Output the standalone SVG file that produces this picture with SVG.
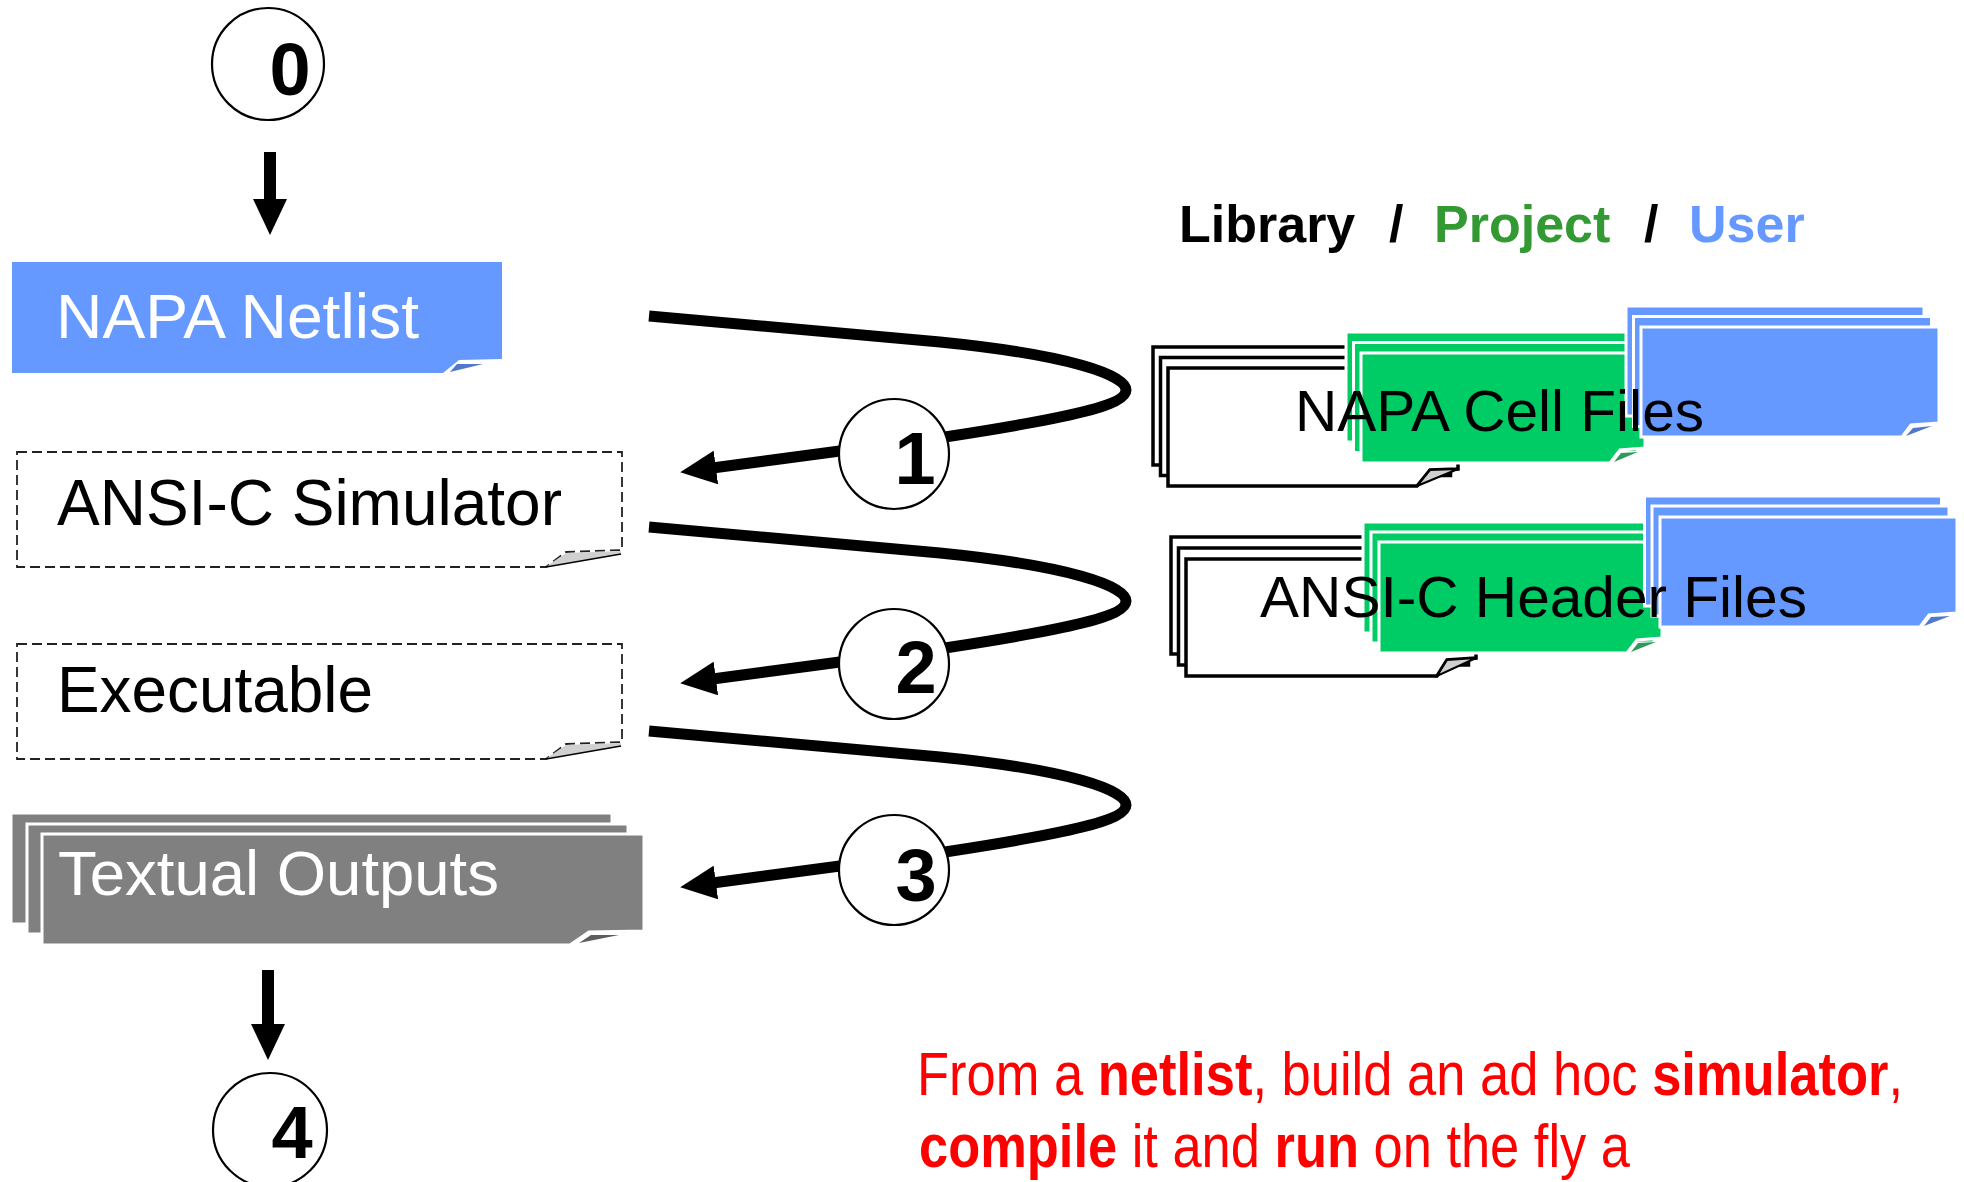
<svg xmlns="http://www.w3.org/2000/svg" width="1964" height="1182" viewBox="0 0 1964 1182">
<defs>
<style>
text{font-family:"Liberation Sans",Arial,sans-serif}
.num{font-size:74px;font-weight:bold;fill:#000;text-anchor:middle}
.ring{fill:#fff;stroke:#000;stroke-width:2.2}
.conn{fill:none;stroke:#000;stroke-width:11}
.dash{fill:none;stroke:#222;stroke-width:1.8;stroke-dasharray:10 5}
.gray{fill:#808080;stroke:#fff;stroke-width:3}
.blue{fill:#6699FF;stroke:#fff;stroke-width:3}
.green{fill:#00CC66;stroke:#fff;stroke-width:3}
.paper{fill:#fff;stroke:#000;stroke-width:3.5}
.curl{fill:#d0d0d0;stroke:#000;stroke-width:2}
.hdr{font-size:52px;font-weight:bold}
.cap{font-size:62px;fill:#FF0000}
</style>
<marker id="ah" viewBox="0 0 36 34" refX="11" refY="17" markerWidth="36" markerHeight="34" markerUnits="userSpaceOnUse" orient="auto">
<path d="M0,0 L36,17 L0,34 Z" fill="#000"/>
</marker>
</defs>
<rect width="1964" height="1182" fill="#fff"/>

<g id="connectors">
<path class="conn" d="M270,152 V210" style="stroke-width:12" marker-end="url(#ah)"/>
<path class="conn" d="M268,970 V1035" style="stroke-width:12" marker-end="url(#ah)"/>
<path id="loop1" class="conn" d="M649,316 L940,342 C1070,355 1126,375 1126,390 C1126,405 1070,418 945,437 L705,469" marker-end="url(#ah)"/>
<path id="loop2" class="conn" transform="translate(0,211)" d="M649,316 L940,342 C1070,355 1126,375 1126,390 C1126,405 1070,418 945,437 L705,469" marker-end="url(#ah)"/>
<path id="loop3" class="conn" transform="translate(0,415)" d="M649,316 L940,342 C1070,355 1126,375 1126,390 C1126,405 1070,418 945,437 L705,469" marker-end="url(#ah)"/>
</g>

<g id="step0">
<circle class="ring" cx="268" cy="64" r="56"/>
<text class="num" x="290" y="95">0</text>
</g>

<g id="napa-netlist">
<path d="M12,262 H502 V359 L459,360 L443,373 H12 Z" fill="#6699FF"/>
<polygon points="450,372 457,364 483,364" fill="#5078cc"/>
<text x="56" y="338" fill="#fff" font-size="63" textLength="363" lengthAdjust="spacingAndGlyphs">NAPA Netlist</text>
</g>

<g id="ansi-c-simulator">
<path class="dash" d="M17,452 H622 V550 L566,552 L546,567 H17 Z"/>
<polygon points="547,566 566,553 621,551 621,554" fill="#d0d0d0"/>
<line x1="546" y1="567" x2="621" y2="554" stroke="#000" stroke-width="1.6"/>
<text x="57" y="525" font-size="64">ANSI-C Simulator</text>
</g>

<g id="executable">
<path class="dash" d="M17,644 H622 V742 L566,744 L546,759 H17 Z"/>
<polygon points="547,758 566,745 621,743 621,746" fill="#d0d0d0"/>
<line x1="546" y1="759" x2="621" y2="746" stroke="#000" stroke-width="1.6"/>
<text x="57" y="712" font-size="64" textLength="316" lengthAdjust="spacingAndGlyphs">Executable</text>
</g>

<g id="textual-outputs">
<rect class="gray" x="11" y="813" width="601" height="111"/>
<rect class="gray" x="27" y="824" width="601" height="110"/>
<path class="gray" d="M42,834 H644 V931 L589,932 L570,945 H42 Z"/>
<polygon points="579,943 591,935 619,935" fill="#5e5e5e"/>
<text x="58" y="895" fill="#fff" font-size="63" textLength="441" lengthAdjust="spacingAndGlyphs">Textual Outputs</text>
</g>

<g id="step4">
<circle class="ring" cx="270" cy="1130" r="57"/>
<text class="num" x="292" y="1158">4</text>
</g>

<g id="step1">
<circle class="ring" cx="894" cy="454" r="55"/>
<text class="num" x="915" y="484">1</text>
</g>
<g id="step2">
<circle class="ring" cx="894" cy="664" r="55"/>
<text class="num" x="916" y="693">2</text>
</g>
<g id="step3">
<circle class="ring" cx="894" cy="870" r="55"/>
<text class="num" x="916" y="901">3</text>
</g>

<g id="legend">
<text class="hdr" y="242"><tspan x="1179" fill="#000">Library</tspan><tspan x="1389" fill="#000">/</tspan><tspan x="1434" fill="#339933">Project</tspan><tspan x="1644" fill="#000">/</tspan><tspan x="1689" fill="#6699FF">User</tspan></text>
</g>

<g id="napa-cell-files">
<rect class="paper" x="1153" y="347" width="290" height="118"/>
<rect class="paper" x="1160.5" y="357.5" width="290" height="118"/>
<path class="paper" d="M1168,368 H1458 V469 L1430,470 L1417,486 H1168 Z"/>
<polygon class="curl" points="1417,486 1430,470 1458,469"/>
<rect class="green" x="1346" y="332" width="284" height="110"/>
<rect class="green" x="1353.5" y="342.5" width="284" height="110"/>
<path class="green" d="M1361,353 H1645 V448 L1620,450 L1610,463 H1361 Z"/>
<polygon points="1614,462 1621,453 1638,452" fill="#2f9a5c"/>
<rect class="blue" x="1626" y="306" width="298" height="110"/>
<rect class="blue" x="1633.5" y="316.5" width="298" height="110"/>
<path class="blue" d="M1641,327 H1939 V423 L1911,425 L1902,437 H1641 Z"/>
<polygon points="1906,436 1913,428 1932,426" fill="#5078cc"/>
<text x="1295" y="431" font-size="58" textLength="409" lengthAdjust="spacingAndGlyphs">NAPA Cell Files</text>
</g>

<g id="ansi-c-header-files">
<rect class="paper" x="1171" y="537" width="290" height="117"/>
<rect class="paper" x="1178.5" y="548" width="290" height="117"/>
<path class="paper" d="M1186,559 H1476 V658 L1447,660 L1437,676 H1186 Z"/>
<polygon class="curl" points="1437,676 1447,660 1476,658"/>
<rect class="green" x="1363" y="522" width="283" height="111"/>
<rect class="green" x="1371" y="532" width="283" height="111"/>
<path class="green" d="M1379,542 H1662 V638 L1637,640 L1627,653 H1379 Z"/>
<polygon points="1631,652 1638,643 1656,642" fill="#2f9a5c"/>
<rect class="blue" x="1644.5" y="496" width="297" height="110"/>
<rect class="blue" x="1652" y="506" width="297" height="110"/>
<path class="blue" d="M1660,517 H1957 V613 L1929,615 L1920,627 H1660 Z"/>
<polygon points="1924,626 1931,617 1950,616" fill="#5078cc"/>
<text x="1260" y="617" font-size="58" textLength="547" lengthAdjust="spacingAndGlyphs">ANSI-C Header Files</text>
</g>

<g id="caption">
<text class="cap" x="917" y="1095" textLength="986" lengthAdjust="spacingAndGlyphs">From a <tspan font-weight="bold">netlist</tspan>, build an ad hoc <tspan font-weight="bold">simulator</tspan>,</text>
<text class="cap" x="919" y="1167" textLength="711" lengthAdjust="spacingAndGlyphs"><tspan font-weight="bold">compile</tspan> it and <tspan font-weight="bold">run</tspan> on the fly a</text>
</g>
</svg>
